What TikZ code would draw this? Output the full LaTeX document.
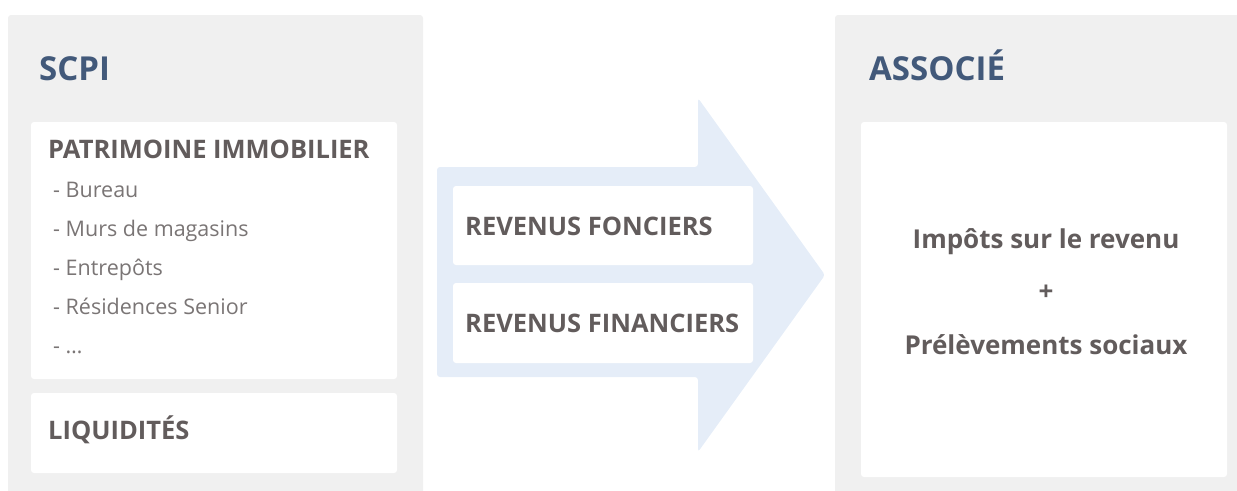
\documentclass[tikz,border=0pt]{standalone}
\usepackage{fontspec}
\setmainfont{Open Sans}
\definecolor{panelgray}{HTML}{F0F0F0}
\definecolor{arrowblue}{HTML}{E5EDF8}
\definecolor{titleblue}{HTML}{42597A}
\definecolor{textgray}{HTML}{625C5C}
\tikzset{
  title/.style={anchor=base west, inner sep=0pt, text=titleblue, font=\fontsize{33}{33}\selectfont\bfseries},
  head/.style={anchor=base west, inner sep=0pt, text=textgray, font=\fontsize{25.5}{25.5}\selectfont\bfseries},
  item/.style={anchor=base west, inner sep=0pt, text=textgray!85, font=\fontsize{21.5}{21.5}\selectfont},
  tax/.style={anchor=base, inner sep=0pt, text=textgray, font=\fontsize{26}{26}\selectfont\bfseries},
  card/.style={fill=white, rounded corners=3pt}
}
\begin{document}
\begin{tikzpicture}[x=1pt, y=-1pt]
  \useasboundingbox (0,0) rectangle (1237,490);
  % Hintergrund-Panels
  \fill[panelgray, rounded corners=3pt] (8,15) rectangle (423,495);
  \fill[panelgray, rounded corners=3pt] (835,15) rectangle (1245,495);
  % Pfeil
  \fill[arrowblue, rounded corners=3pt] (437,167) -- (698,167) -- (698,98)
    -- (825,275) -- (698,452) -- (698,377) -- (437,377) -- cycle;
  % weisse Karten
  \fill[card] (31,122) rectangle (397,379);
  \fill[card] (31,393) rectangle (397,473);
  \fill[card] (453,186) rectangle (753,265);
  \fill[card] (453,283) rectangle (753,363);
  \fill[card] (861,122) rectangle (1227,477);
  % linke Seite
  \node[title] (scpi) at (39,80) {SCPI};
  \node[head] (patrimoine) at (48,158) {PATRIMOINE IMMOBILIER};
  \foreach \t [count=\i] in {Bureau, Murs de magasins, Entrepôts, Résidences Senior, {\ldots}}{
    \node[item] (item\i) at (53,158+39*\i) {- \t};
  }
  \node[head] (liquidites) at (48,439) {LIQUIDITÉS};
  % Mitte
  \node[head] (fonciers) at (465,235) {REVENUS FONCIERS};
  \node[head] (financiers) at (465,332) {REVENUS FINANCIERS};
  % rechte Seite
  \node[title] (associe) at (869,80) {ASSOCIÉ};
  \node[tax] (impots) at (1046,248) {Impôts sur le revenu};
  \node[tax] (plus) at (1046,300) {+};
  \node[tax] (prelevements) at (1046,354) {Prélèvements sociaux};
\end{tikzpicture}
\end{document}
